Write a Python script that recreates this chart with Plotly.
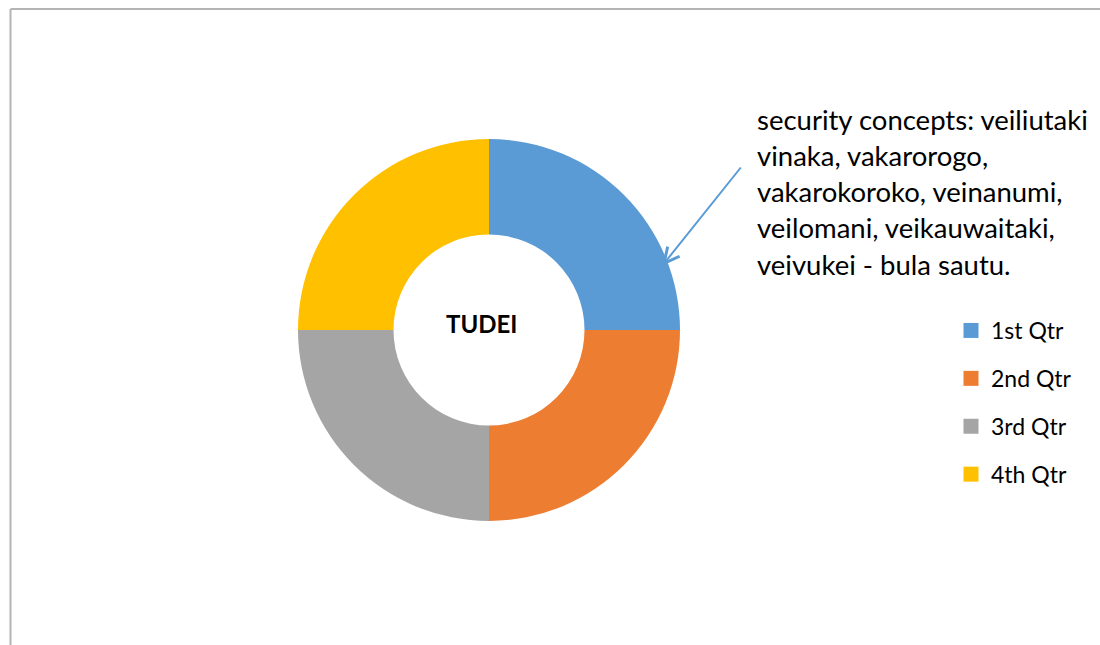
import plotly.graph_objects as go

# Quarterly shares shown in the ring
quarters = ["1st Qtr", "2nd Qtr", "3rd Qtr", "4th Qtr"]
shares = [25, 25, 25, 25]
slice_colors = ["#5B9BD5", "#ED7D31", "#A5A5A5", "#FFC000"]

center_label = "TUDEI"
note_lines = [
    "security concepts: veiliutaki",
    "vinaka, vakarorogo,",
    "vakarokoroko, veinanumi,",
    "veilomani, veikauwaitaki,",
    "veivukei - bula sautu.",
]

W, H = 1100, 645
FONT = "Lato, 'Open Sans', sans-serif"

# ring geometry (pixels)
cx, cy, r = 489, 330, 191

fig = go.Figure()
fig.add_trace(go.Pie(
    labels=quarters,
    values=shares,
    hole=0.5,
    sort=False,
    direction="clockwise",
    rotation=0,
    marker=dict(colors=slice_colors, line=dict(width=0)),
    textinfo="none",
    hoverinfo="label+value",
    showlegend=False,
    domain=dict(x=[(cx - r) / W, (cx + r) / W], y=[1 - (cy + r) / H, 1 - (cy - r) / H]),
))

# legend entries, one group per quarter so the spacing can be widened
for name, col in zip(quarters, slice_colors):
    fig.add_trace(go.Scatter(
        x=[None], y=[None], mode="markers", name=name, legendgroup=name,
        marker=dict(symbol="square", size=15, color=col),
    ))

annotations = [dict(
    text=f"<b>{center_label}</b>", x=481 / W, y=1 - 323 / H, xref="paper", yref="paper",
    showarrow=False, font=dict(family=FONT, size=24, color="#000000"),
    xanchor="center", yanchor="middle",
)]
for i, line in enumerate(note_lines):
    annotations.append(dict(
        text=line, x=755 / W, y=1 - (119 + 36.3 * i) / H, xref="paper", yref="paper",
        showarrow=False, font=dict(family=FONT, size=27.5, color="#000000"),
        xanchor="left", yanchor="middle",
    ))
# leader arrow from the note to the first slice
annotations.append(dict(
    text="", x=662 / W, y=1 - 266 / H, xref="paper", yref="paper",
    ax=80, ay=-100, axref="pixel", ayref="pixel",
    showarrow=True, arrowhead=5, arrowsize=1.5, arrowwidth=2, arrowcolor="#5B9BD5",
))

fig.update_layout(
    width=W, height=H,
    margin=dict(l=0, r=0, t=0, b=0),
    paper_bgcolor="#FFFFFF", plot_bgcolor="#FFFFFF",
    xaxis=dict(visible=False), yaxis=dict(visible=False),
    showlegend=True,
    legend=dict(
        x=951 / W, y=1 - 309 / H, xanchor="left", yanchor="top",
        font=dict(family=FONT, size=23, color="#000000"),
        tracegroupgap=15, itemwidth=30, bgcolor="rgba(0,0,0,0)",
    ),
    annotations=annotations,
    shapes=[
        dict(type="line", xref="paper", yref="paper", x0=10.5 / W, x1=10.5 / W, y0=0, y1=1 - 9 / H,
             line=dict(color="#B4B4B4", width=2)),
        dict(type="line", xref="paper", yref="paper", x0=10.5 / W, x1=1, y0=1 - 9 / H, y1=1 - 9 / H,
             line=dict(color="#B4B4B4", width=2)),
    ],
)

fig.write_html("out.html")
